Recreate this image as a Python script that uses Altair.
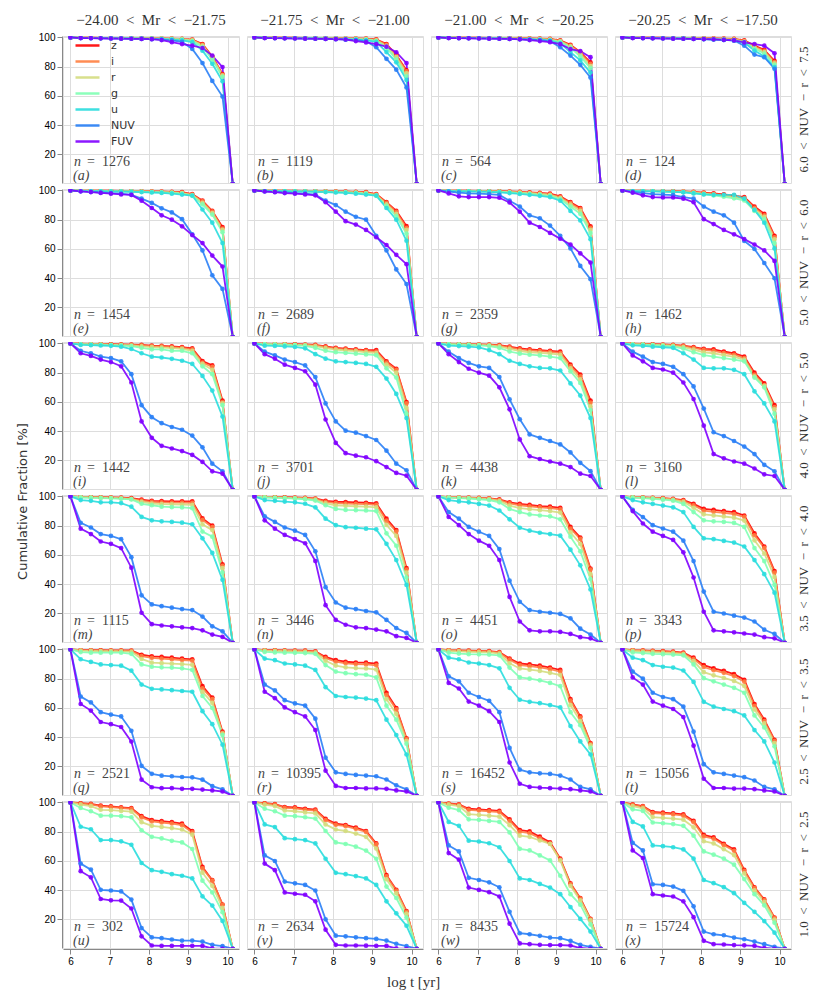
import altair as alt
import pandas as pd

# log-age grid (x positions of the markers)
T = [6.0, 6.26, 6.52, 6.77, 7.03, 7.29, 7.55, 7.81, 8.07, 8.32, 8.58, 8.84, 9.1, 9.36, 9.61, 9.87, 10.13]
BANDS = ["z", "i", "r", "g", "u", "NUV", "FUV"]
COLORS = ["#ff0000", "#ff8042", "#d4dd80", "#80ffb4", "#2addde", "#2a80f6", "#8000ff"]
SP = "\u2002"
COL_LABELS = ["\u221224.00" + SP + "<" + SP + "Mr" + SP + "<" + SP + "\u221221.75",
              "\u221221.75" + SP + "<" + SP + "Mr" + SP + "<" + SP + "\u221221.00",
              "\u221221.00" + SP + "<" + SP + "Mr" + SP + "<" + SP + "\u221220.25",
              "\u221220.25" + SP + "<" + SP + "Mr" + SP + "<" + SP + "\u221217.50"]
ROW_LABELS = ["6.0" + SP + "<" + SP + "NUV" + SP + "\u2212" + SP + "r" + SP + "<" + SP + "7.5",
              "5.0" + SP + "<" + SP + "NUV" + SP + "\u2212" + SP + "r" + SP + "<" + SP + "6.0",
              "4.0" + SP + "<" + SP + "NUV" + SP + "\u2212" + SP + "r" + SP + "<" + SP + "5.0",
              "3.5" + SP + "<" + SP + "NUV" + SP + "\u2212" + SP + "r" + SP + "<" + SP + "4.0",
              "2.5" + SP + "<" + SP + "NUV" + SP + "\u2212" + SP + "r" + SP + "<" + SP + "3.5",
              "1.0" + SP + "<" + SP + "NUV" + SP + "\u2212" + SP + "r" + SP + "<" + SP + "2.5"]
N_COUNTS = [1276, 1119, 564, 124, 1454, 2689, 2359, 1462, 1442, 3701, 4438, 3160,
            1115, 3446, 4451, 3343, 2521, 10395, 16452, 15056, 302, 2634, 8435, 15724]
LETTERS = list("abcdefghijklmnopqrstuvwx")

PANEL_A = {
    "z": [100, 99.8, 99.8, 99.7, 99.7, 99.6, 99.6, 99.5, 99.4, 99.3, 99.2, 99.0, 98.5, 95.5, 87.0, 75.0, 0],
    "i": [100, 99.8, 99.8, 99.7, 99.7, 99.6, 99.6, 99.5, 99.4, 99.3, 99.1, 98.9, 98.3, 95.0, 86.5, 74.5, 0],
    "r": [100, 99.8, 99.7, 99.7, 99.6, 99.6, 99.5, 99.4, 99.3, 99.2, 99.0, 98.8, 98.0, 94.5, 86.0, 74.0, 0],
    "g": [100, 99.8, 99.7, 99.6, 99.6, 99.5, 99.4, 99.3, 99.2, 99.0, 98.8, 98.5, 97.5, 93.5, 85.0, 73.0, 0],
    "u": [100, 99.7, 99.6, 99.5, 99.5, 99.4, 99.3, 99.2, 99.0, 98.8, 98.5, 98.0, 96.8, 91.0, 82.0, 70.0, 0],
    "NUV": [100, 99.6, 99.5, 99.4, 99.3, 99.2, 99.1, 99.0, 98.8, 98.5, 98.0, 97.0, 92.1, 82.5, 70.3, 59.6, 0],
    "FUV": [100, 99.6, 99.5, 99.4, 99.3, 99.2, 99.1, 99.0, 98.8, 98.2, 96.8, 95.5, 94.4, 92.8, 87.6, 79.8, 0],
}
PANEL_B = {
    "z": [100, 99.9, 99.9, 99.8, 99.8, 99.7, 99.7, 99.6, 99.5, 99.4, 99.3, 99.2, 98.7, 95.5, 88.0, 77.5, 0],
    "i": [100, 99.9, 99.8, 99.8, 99.7, 99.7, 99.6, 99.5, 99.4, 99.3, 99.2, 99.0, 98.4, 95.0, 87.3, 76.8, 0],
    "r": [100, 99.9, 99.8, 99.7, 99.7, 99.6, 99.5, 99.4, 99.3, 99.2, 99.0, 98.8, 98.0, 94.2, 86.5, 75.5, 0],
    "g": [100, 99.8, 99.7, 99.7, 99.6, 99.5, 99.4, 99.3, 99.2, 99.0, 98.8, 98.5, 97.6, 93.0, 85.0, 73.5, 0],
    "u": [100, 99.8, 99.7, 99.6, 99.5, 99.4, 99.3, 99.2, 99.0, 98.8, 98.5, 98.0, 97.0, 90.0, 83.0, 71.0, 0],
    "NUV": [100, 99.7, 99.6, 99.5, 99.4, 99.3, 99.2, 99.0, 98.8, 98.5, 98.2, 97.5, 93.3, 85.4, 78.0, 65.8, 0],
    "FUV": [100, 99.6, 99.5, 99.4, 99.3, 99.2, 99.1, 99.0, 98.8, 98.6, 97.5, 96.6, 95.5, 93.7, 89.9, 82.5, 0],
}
PANEL_C = {
    "z": [100, 99.9, 99.9, 99.8, 99.8, 99.7, 99.7, 99.6, 99.5, 99.4, 99.2, 99.0, 98.0, 95.0, 90.0, 83.0, 0],
    "i": [100, 99.9, 99.8, 99.8, 99.7, 99.7, 99.6, 99.5, 99.4, 99.3, 99.1, 98.8, 97.7, 94.5, 89.5, 82.0, 0],
    "r": [100, 99.9, 99.8, 99.7, 99.7, 99.6, 99.5, 99.4, 99.3, 99.1, 98.9, 98.5, 97.4, 94.0, 88.5, 80.5, 0],
    "g": [100, 99.8, 99.7, 99.7, 99.6, 99.5, 99.4, 99.3, 99.1, 98.9, 98.6, 98.2, 97.0, 93.0, 87.0, 79.0, 0],
    "u": [100, 99.8, 99.7, 99.6, 99.5, 99.4, 99.3, 99.1, 98.9, 98.6, 98.3, 97.8, 96.0, 90.0, 84.3, 76.0, 0],
    "NUV": [100, 99.7, 99.6, 99.5, 99.4, 99.3, 99.2, 99.0, 98.8, 98.6, 98.2, 97.5, 93.3, 87.6, 81.3, 72.6, 0],
    "FUV": [100, 99.6, 99.5, 99.4, 99.3, 99.2, 99.1, 99.0, 98.7, 98.2, 97.5, 96.8, 95.5, 92.0, 90.6, 86.5, 0],
}
PANEL_D = {
    "z": [100, 99.9, 99.9, 99.8, 99.8, 99.7, 99.7, 99.6, 99.5, 99.4, 99.2, 99.0, 98.0, 94.4, 91.5, 84.0, 0],
    "i": [100, 99.9, 99.8, 99.8, 99.7, 99.7, 99.6, 99.5, 99.4, 99.3, 99.1, 98.8, 97.6, 93.8, 90.8, 83.2, 0],
    "r": [100, 99.9, 99.8, 99.7, 99.7, 99.6, 99.5, 99.4, 99.3, 99.1, 98.9, 98.5, 97.2, 93.2, 90.0, 82.3, 0],
    "g": [100, 99.8, 99.7, 99.7, 99.6, 99.5, 99.4, 99.3, 99.1, 98.9, 98.6, 98.2, 96.8, 92.3, 89.0, 81.3, 0],
    "u": [100, 99.8, 99.7, 99.6, 99.5, 99.4, 99.3, 99.1, 98.9, 98.6, 98.3, 97.8, 96.5, 91.0, 87.0, 79.8, 0],
    "NUV": [100, 99.7, 99.6, 99.5, 99.4, 99.3, 99.2, 99.0, 98.8, 98.6, 98.3, 98.0, 94.4, 88.3, 86.5, 78.6, 0],
    "FUV": [100, 99.6, 99.5, 99.4, 99.3, 99.2, 99.1, 99.0, 98.9, 98.7, 98.4, 98.0, 96.6, 95.5, 94.4, 89.2, 0],
}
PANEL_E = {
    "z": [100, 99.9, 99.9, 99.8, 99.8, 99.7, 99.6, 99.5, 99.4, 99.3, 99.1, 98.8, 97.5, 93.0, 86.0, 75.0, 0],
    "i": [100, 99.9, 99.8, 99.8, 99.7, 99.6, 99.5, 99.4, 99.3, 99.1, 98.9, 98.5, 97.2, 92.5, 85.5, 74.0, 0],
    "r": [100, 99.9, 99.8, 99.7, 99.6, 99.5, 99.4, 99.3, 99.1, 98.9, 98.6, 98.2, 96.8, 91.5, 84.5, 73.0, 0],
    "g": [100, 99.8, 99.7, 99.6, 99.5, 99.4, 99.3, 99.1, 98.9, 98.7, 98.3, 97.8, 96.3, 90.5, 83.5, 71.5, 0],
    "u": [100, 99.7, 99.6, 99.5, 99.4, 99.3, 99.1, 98.9, 98.6, 98.3, 97.8, 97.2, 96.5, 87.0, 78.0, 64.0, 0],
    "NUV": [100, 99.4, 99.0, 98.6, 98.2, 97.8, 97.0, 94.4, 91.5, 87.8, 85.0, 80.4, 70.0, 59.0, 42.0, 32.7, 0],
    "FUV": [100, 99.4, 98.9, 98.3, 97.8, 97.3, 97.0, 93.0, 88.0, 83.0, 80.0, 75.5, 69.5, 64.0, 55.5, 48.0, 0],
}
PANEL_F = {
    "z": [100, 99.9, 99.9, 99.8, 99.8, 99.7, 99.6, 99.5, 99.4, 99.3, 99.1, 98.8, 97.5, 92.0, 86.0, 75.6, 0],
    "i": [100, 99.9, 99.8, 99.8, 99.7, 99.6, 99.5, 99.4, 99.3, 99.1, 98.9, 98.5, 97.2, 91.5, 85.3, 74.5, 0],
    "r": [100, 99.9, 99.8, 99.7, 99.6, 99.5, 99.4, 99.3, 99.1, 98.9, 98.6, 98.2, 96.8, 90.5, 84.0, 73.0, 0],
    "g": [100, 99.8, 99.7, 99.6, 99.5, 99.4, 99.3, 99.1, 98.9, 98.7, 98.3, 97.8, 96.3, 89.5, 82.5, 70.5, 0],
    "u": [100, 99.7, 99.6, 99.5, 99.4, 99.3, 99.1, 98.9, 98.6, 98.3, 97.8, 97.2, 96.5, 88.0, 80.0, 65.6, 0],
    "NUV": [100, 99.4, 99.0, 98.6, 98.2, 97.8, 97.2, 93.0, 90.0, 85.5, 82.0, 80.0, 69.0, 59.0, 46.0, 36.0, 0],
    "FUV": [100, 99.3, 98.8, 98.2, 97.8, 97.3, 96.7, 92.0, 85.5, 79.0, 76.7, 73.0, 68.0, 62.7, 56.0, 49.6, 0],
}
PANEL_G = {
    "z": [100, 99.9, 99.8, 99.8, 99.7, 99.6, 99.5, 99.3, 99.0, 98.7, 98.3, 97.8, 96.0, 92.0, 88.0, 75.5, 0],
    "i": [100, 99.8, 99.8, 99.7, 99.6, 99.5, 99.3, 99.1, 98.8, 98.4, 98.0, 97.4, 95.5, 91.3, 87.2, 74.5, 0],
    "r": [100, 99.8, 99.7, 99.6, 99.5, 99.4, 99.2, 98.9, 98.5, 98.1, 97.6, 96.9, 94.8, 90.3, 86.0, 73.0, 0],
    "g": [100, 99.7, 99.6, 99.5, 99.4, 99.2, 99.0, 98.6, 98.1, 97.6, 97.0, 96.2, 94.0, 89.0, 84.0, 71.0, 0],
    "u": [100, 99.6, 99.5, 99.3, 99.2, 99.0, 98.7, 98.2, 97.6, 97.0, 96.3, 95.5, 93.0, 86.0, 79.5, 66.7, 0],
    "NUV": [100, 99.2, 98.5, 98.0, 97.8, 97.5, 97.0, 93.0, 89.0, 83.0, 81.0, 76.0, 69.0, 60.4, 48.4, 39.3, 0],
    "FUV": [100, 98.0, 96.0, 95.5, 95.5, 95.5, 95.0, 91.8, 85.5, 78.0, 75.0, 71.0, 67.0, 63.0, 57.0, 50.7, 0],
}
PANEL_H = {
    "z": [100, 99.9, 99.8, 99.7, 99.6, 99.5, 99.3, 99.0, 98.5, 98.0, 97.3, 96.5, 95.5, 89.0, 84.0, 69.0, 0],
    "i": [100, 99.8, 99.7, 99.6, 99.5, 99.4, 99.2, 98.8, 98.2, 97.6, 96.8, 96.0, 94.8, 88.2, 83.0, 68.0, 0],
    "r": [100, 99.8, 99.7, 99.6, 99.4, 99.2, 99.0, 98.5, 97.8, 97.1, 96.3, 95.3, 94.0, 87.0, 82.0, 66.5, 0],
    "g": [100, 99.7, 99.6, 99.5, 99.3, 99.1, 98.8, 98.2, 97.4, 96.6, 95.7, 94.6, 93.2, 86.0, 80.5, 64.0, 0],
    "u": [100, 99.6, 99.5, 99.4, 99.2, 99.0, 98.7, 98.0, 97.3, 97.0, 97.0, 97.0, 94.4, 86.7, 78.0, 60.4, 0],
    "NUV": [100, 99.0, 98.2, 97.5, 97.2, 96.8, 95.5, 94.4, 89.0, 85.5, 83.0, 78.0, 65.5, 60.0, 50.4, 40.0, 0],
    "FUV": [100, 98.5, 96.7, 95.5, 95.2, 95.2, 94.4, 92.0, 80.4, 77.0, 73.0, 70.0, 66.7, 63.0, 59.0, 51.8, 0],
}
PANEL_I = {
    "z": [100, 99.8, 99.7, 99.6, 99.5, 99.4, 99.2, 99.0, 98.5, 98.3, 98.0, 97.5, 96.7, 88.0, 85.0, 61.0, 0],
    "i": [100, 99.7, 99.6, 99.5, 99.3, 99.2, 99.0, 98.7, 98.2, 98.0, 97.5, 97.0, 96.0, 87.0, 84.0, 60.0, 0],
    "r": [100, 99.6, 99.5, 99.3, 99.1, 98.9, 98.6, 98.0, 97.5, 97.2, 96.8, 96.3, 95.0, 86.0, 82.0, 59.0, 0],
    "g": [100, 99.5, 99.3, 99.1, 98.9, 98.6, 98.2, 97.0, 96.0, 96.0, 95.0, 95.0, 93.3, 84.4, 79.0, 57.8, 0],
    "u": [100, 99.0, 98.8, 98.6, 98.4, 97.8, 96.2, 93.3, 91.0, 90.4, 89.5, 88.2, 86.0, 77.8, 67.8, 50.0, 0],
    "NUV": [100, 95.0, 93.3, 91.0, 90.0, 87.8, 79.0, 57.8, 49.6, 45.5, 42.9, 41.0, 37.0, 29.0, 17.8, 12.6, 0],
    "FUV": [100, 93.3, 91.5, 89.0, 87.3, 84.4, 73.3, 46.7, 35.5, 30.0, 28.2, 26.4, 23.8, 19.0, 12.6, 11.0, 0],
}
PANEL_J = {
    "z": [100, 99.8, 99.7, 99.6, 99.5, 99.3, 99.0, 98.0, 97.0, 96.5, 96.0, 95.5, 95.5, 87.8, 82.7, 60.0, 0],
    "i": [100, 99.7, 99.6, 99.5, 99.3, 99.1, 98.7, 97.6, 96.5, 96.0, 95.5, 95.0, 94.5, 87.0, 82.0, 59.0, 0],
    "r": [100, 99.6, 99.5, 99.3, 99.1, 98.8, 98.2, 96.8, 95.8, 95.2, 94.7, 94.0, 93.5, 85.5, 80.0, 56.0, 0],
    "g": [100, 99.5, 99.3, 99.1, 98.8, 98.4, 97.0, 95.0, 94.0, 93.5, 93.0, 92.5, 92.0, 83.0, 76.7, 52.0, 0],
    "u": [100, 98.5, 98.3, 98.0, 97.6, 96.7, 92.7, 89.6, 87.8, 87.3, 86.7, 86.0, 84.0, 76.0, 65.5, 49.0, 0],
    "NUV": [100, 94.4, 91.8, 89.0, 87.3, 85.0, 77.0, 59.0, 46.7, 40.4, 39.0, 36.7, 34.0, 26.7, 17.8, 13.3, 0],
    "FUV": [100, 92.7, 89.6, 85.5, 83.3, 81.0, 71.8, 48.0, 32.0, 25.0, 23.3, 22.2, 19.5, 15.5, 11.5, 9.6, 0],
}
PANEL_K = {
    "z": [100, 99.8, 99.7, 99.6, 99.4, 99.2, 98.8, 97.8, 96.7, 96.0, 95.5, 95.0, 94.4, 85.5, 78.8, 61.0, 0],
    "i": [100, 99.7, 99.6, 99.4, 99.2, 99.0, 98.5, 97.3, 96.0, 95.3, 94.8, 94.2, 93.5, 84.5, 77.5, 59.5, 0],
    "r": [100, 99.6, 99.4, 99.2, 99.0, 98.7, 98.0, 96.3, 94.8, 94.0, 93.5, 93.0, 92.3, 83.0, 75.5, 57.0, 0],
    "g": [100, 99.5, 99.3, 99.0, 98.7, 98.2, 97.0, 94.5, 93.0, 92.3, 91.8, 91.0, 90.0, 81.0, 73.0, 54.5, 0],
    "u": [100, 98.5, 98.2, 97.8, 97.3, 95.5, 92.7, 88.2, 86.0, 84.4, 83.3, 83.0, 81.5, 72.7, 64.4, 49.0, 0],
    "NUV": [100, 94.4, 90.0, 86.7, 84.4, 83.3, 77.0, 61.8, 48.2, 37.8, 35.5, 33.3, 31.0, 25.5, 18.4, 12.7, 0],
    "FUV": [100, 92.7, 87.3, 82.7, 80.0, 78.0, 70.0, 55.0, 34.4, 22.9, 21.0, 19.3, 17.8, 15.5, 11.0, 9.4, 0],
}
PANEL_L = {
    "z": [100, 99.8, 99.7, 99.5, 99.3, 99.0, 98.5, 97.5, 96.3, 96.0, 94.5, 93.3, 91.0, 80.0, 72.7, 57.8, 0],
    "i": [100, 99.7, 99.5, 99.3, 99.1, 98.8, 98.2, 97.0, 95.6, 95.0, 93.5, 92.3, 90.0, 78.8, 71.5, 56.5, 0],
    "r": [100, 99.6, 99.4, 99.1, 98.8, 98.4, 97.5, 95.8, 94.0, 93.2, 92.0, 90.8, 89.0, 77.5, 71.0, 55.0, 0],
    "g": [100, 99.4, 99.2, 98.8, 98.4, 97.8, 96.5, 94.0, 92.0, 91.0, 90.0, 89.0, 87.8, 76.7, 70.0, 52.0, 0],
    "u": [100, 98.7, 98.3, 97.8, 97.4, 97.0, 93.3, 89.0, 83.3, 83.0, 83.0, 82.0, 79.0, 67.3, 59.0, 46.7, 0],
    "NUV": [100, 94.4, 91.0, 87.3, 86.0, 84.0, 79.0, 70.6, 55.5, 39.3, 36.7, 33.3, 29.5, 24.4, 17.0, 12.6, 0],
    "FUV": [100, 91.8, 87.8, 83.3, 82.2, 80.0, 73.3, 62.0, 43.8, 24.4, 21.5, 19.3, 17.8, 14.5, 10.5, 9.4, 0],
}
PANEL_M = {
    "z": [100, 99.7, 99.6, 99.5, 99.4, 99.2, 98.8, 97.8, 97.0, 96.8, 96.7, 96.7, 96.7, 85.0, 80.0, 53.6, 0],
    "i": [100, 99.6, 99.5, 99.4, 99.2, 99.0, 98.5, 97.2, 96.3, 96.0, 95.8, 95.8, 95.7, 84.0, 79.0, 52.5, 0],
    "r": [100, 99.5, 99.4, 99.2, 99.0, 98.7, 98.2, 96.3, 95.2, 94.8, 94.6, 94.5, 94.3, 81.0, 77.0, 51.0, 0],
    "g": [100, 99.3, 99.1, 98.9, 98.7, 98.4, 98.0, 95.0, 94.0, 93.0, 92.7, 92.5, 92.0, 76.0, 72.5, 48.0, 0],
    "u": [100, 97.5, 97.0, 96.0, 96.0, 95.5, 93.0, 86.0, 83.7, 83.0, 82.6, 82.1, 81.0, 71.4, 61.4, 43.0, 0],
    "NUV": [100, 82.0, 78.8, 74.3, 73.0, 70.8, 58.5, 32.4, 26.2, 25.0, 24.0, 23.0, 22.3, 17.9, 11.2, 7.8, 0],
    "FUV": [100, 78.0, 74.3, 69.2, 67.6, 64.7, 51.3, 20.5, 12.7, 11.8, 11.2, 10.5, 10.0, 8.5, 5.6, 4.0, 0],
}
PANEL_N = {
    "z": [100, 99.7, 99.6, 99.5, 99.3, 99.1, 98.6, 97.0, 96.4, 96.2, 96.0, 95.7, 95.3, 84.8, 77.0, 51.0, 0],
    "i": [100, 99.6, 99.5, 99.3, 99.1, 98.9, 98.3, 96.3, 95.5, 95.2, 95.0, 94.7, 94.3, 83.5, 76.0, 50.0, 0],
    "r": [100, 99.5, 99.3, 99.1, 98.8, 98.5, 97.8, 95.3, 94.0, 93.6, 93.3, 93.0, 92.5, 80.5, 73.0, 48.0, 0],
    "g": [100, 99.3, 99.1, 98.8, 98.5, 98.1, 97.2, 94.0, 91.5, 90.8, 90.6, 90.4, 90.0, 74.8, 66.3, 44.6, 0],
    "u": [100, 97.5, 97.0, 96.5, 96.0, 95.0, 92.6, 84.8, 80.4, 79.0, 78.6, 78.0, 77.5, 67.6, 56.5, 39.5, 0],
    "NUV": [100, 86.4, 82.6, 78.8, 76.6, 73.7, 62.5, 38.0, 27.5, 24.0, 23.0, 21.7, 20.8, 15.6, 10.0, 6.7, 0],
    "FUV": [100, 83.7, 78.0, 73.7, 70.8, 68.0, 55.8, 25.7, 15.6, 12.3, 10.5, 10.0, 9.0, 7.8, 4.5, 3.3, 0],
}
PANEL_O = {
    "z": [100, 99.6, 99.4, 99.2, 99.0, 98.7, 98.0, 96.0, 94.9, 94.2, 93.3, 93.0, 92.2, 79.2, 71.9, 50.7, 0],
    "i": [100, 99.5, 99.3, 99.1, 98.8, 98.5, 97.6, 95.3, 94.0, 93.3, 92.5, 92.0, 91.2, 78.0, 71.0, 50.0, 0],
    "r": [100, 99.4, 99.2, 98.9, 98.6, 98.2, 97.0, 93.8, 92.0, 91.3, 90.6, 90.0, 89.0, 75.5, 67.5, 47.0, 0],
    "g": [100, 99.2, 98.9, 98.5, 98.1, 97.5, 96.0, 91.5, 89.3, 87.7, 87.0, 86.4, 84.4, 72.5, 62.5, 43.5, 0],
    "u": [100, 97.5, 96.6, 96.0, 94.9, 93.8, 90.4, 84.4, 78.6, 76.6, 75.2, 74.3, 73.2, 63.6, 52.9, 36.4, 0],
    "NUV": [100, 89.3, 84.8, 79.2, 75.9, 73.0, 64.0, 42.4, 28.0, 22.3, 21.2, 20.5, 19.7, 16.7, 9.6, 5.6, 0],
    "FUV": [100, 86.0, 80.4, 74.3, 69.8, 66.3, 56.5, 31.3, 14.5, 8.5, 7.8, 7.8, 7.4, 6.0, 3.8, 3.0, 0],
}
PANEL_P = {
    "z": [100, 99.6, 99.4, 99.1, 98.8, 98.4, 97.5, 94.9, 91.5, 90.8, 90.0, 89.3, 87.0, 74.8, 65.8, 49.0, 0],
    "i": [100, 99.5, 99.3, 99.0, 98.6, 98.1, 97.0, 94.0, 90.3, 89.5, 88.8, 88.0, 86.0, 73.5, 64.8, 48.0, 0],
    "r": [100, 99.4, 99.1, 98.7, 98.3, 97.7, 96.3, 92.3, 87.8, 87.0, 86.3, 85.5, 83.5, 70.0, 61.0, 45.0, 0],
    "g": [100, 99.2, 98.8, 98.3, 97.8, 97.1, 94.9, 89.3, 83.7, 83.0, 82.6, 81.9, 79.2, 64.7, 55.8, 39.5, 0],
    "u": [100, 97.5, 96.0, 94.9, 93.8, 92.6, 89.3, 79.2, 71.4, 70.8, 69.6, 68.5, 65.8, 56.5, 46.9, 34.2, 0],
    "NUV": [100, 90.8, 85.9, 80.4, 78.1, 75.9, 69.8, 55.8, 35.0, 21.2, 20.0, 18.5, 17.2, 14.5, 8.9, 6.0, 0],
    "FUV": [100, 90.0, 81.5, 75.9, 73.0, 70.3, 61.8, 44.6, 21.2, 8.5, 7.8, 7.1, 6.3, 5.6, 3.8, 3.0, 0],
}
PANEL_Q = {
    "z": [100, 99.6, 99.5, 99.5, 99.4, 99.4, 99.3, 96.4, 95.3, 94.9, 94.4, 93.8, 93.3, 74.9, 67.1, 43.8, 0],
    "i": [100, 99.5, 99.4, 99.3, 99.2, 99.2, 99.0, 95.5, 94.3, 93.8, 93.3, 92.8, 92.3, 73.5, 66.0, 43.0, 0],
    "r": [100, 99.2, 99.0, 98.9, 98.8, 98.7, 98.4, 93.5, 91.0, 90.6, 90.3, 90.0, 89.5, 71.0, 63.5, 42.5, 0],
    "g": [100, 98.2, 97.8, 97.8, 97.8, 97.8, 97.0, 89.8, 88.2, 87.8, 87.6, 87.1, 86.0, 68.2, 60.0, 41.5, 0],
    "u": [100, 93.3, 91.5, 89.8, 89.3, 88.9, 85.5, 76.0, 73.1, 72.7, 72.2, 71.6, 71.1, 57.8, 48.9, 34.9, 0],
    "NUV": [100, 67.8, 63.8, 57.1, 55.5, 54.2, 44.4, 20.4, 15.0, 13.7, 13.3, 12.8, 12.6, 11.0, 6.6, 4.4, 0],
    "FUV": [100, 62.7, 58.2, 50.4, 48.9, 47.0, 37.0, 11.0, 5.8, 5.2, 5.2, 4.7, 4.7, 4.2, 3.6, 2.9, 0],
}
PANEL_R = {
    "z": [100, 99.6, 99.5, 99.4, 99.3, 99.2, 98.7, 94.9, 92.7, 91.6, 91.1, 91.0, 90.4, 70.4, 60.0, 39.3, 0],
    "i": [100, 99.5, 99.4, 99.2, 99.1, 99.0, 98.4, 94.0, 91.6, 90.5, 90.0, 89.8, 89.2, 69.0, 59.0, 38.8, 0],
    "r": [100, 99.2, 99.0, 98.8, 98.6, 98.4, 97.8, 92.3, 89.0, 87.8, 87.3, 87.0, 86.3, 66.0, 56.0, 37.5, 0],
    "g": [100, 98.3, 98.0, 97.8, 97.7, 97.5, 97.0, 89.3, 84.9, 83.8, 83.1, 82.7, 80.9, 61.6, 52.0, 35.6, 0],
    "u": [100, 93.8, 92.7, 90.4, 89.8, 88.9, 86.0, 74.2, 68.2, 67.5, 67.1, 66.4, 65.3, 52.0, 41.5, 28.2, 0],
    "NUV": [100, 76.0, 72.0, 65.3, 63.1, 61.6, 52.7, 26.0, 16.0, 14.9, 14.2, 13.8, 13.3, 11.1, 7.1, 4.4, 0],
    "FUV": [100, 71.1, 66.7, 60.4, 57.1, 54.2, 44.9, 17.1, 6.7, 5.3, 5.3, 5.0, 5.0, 4.7, 3.6, 2.9, 0],
}
PANEL_S = {
    "z": [100, 99.6, 99.4, 99.2, 99.0, 98.8, 98.2, 93.8, 90.4, 89.8, 88.9, 87.6, 86.0, 66.0, 54.2, 36.0, 0],
    "i": [100, 99.5, 99.2, 99.0, 98.8, 98.6, 97.8, 93.0, 89.3, 88.6, 87.8, 86.5, 84.8, 65.0, 53.5, 35.5, 0],
    "r": [100, 99.0, 98.7, 98.4, 98.2, 98.0, 97.2, 90.5, 87.0, 86.2, 85.3, 84.0, 82.5, 62.0, 51.0, 34.5, 0],
    "g": [100, 97.8, 97.2, 96.8, 96.7, 96.5, 96.0, 87.6, 80.9, 80.0, 78.9, 77.1, 74.9, 57.1, 48.2, 32.7, 0],
    "u": [100, 94.4, 93.3, 91.1, 90.4, 89.3, 87.1, 73.8, 65.6, 64.2, 63.3, 62.0, 60.4, 47.6, 37.1, 28.2, 0],
    "NUV": [100, 81.6, 78.2, 70.4, 67.5, 64.9, 57.1, 32.7, 17.8, 16.0, 15.3, 14.9, 13.8, 11.1, 6.0, 4.4, 0],
    "FUV": [100, 77.1, 73.3, 64.4, 61.6, 57.8, 50.4, 22.7, 8.2, 6.0, 5.5, 5.2, 4.9, 4.5, 3.6, 2.9, 0],
}
PANEL_T = {
    "z": [100, 99.6, 99.4, 99.1, 98.8, 98.5, 97.8, 94.4, 89.3, 87.1, 85.3, 83.1, 79.3, 62.7, 52.0, 38.2, 0],
    "i": [100, 99.5, 99.2, 98.9, 98.6, 98.2, 97.4, 93.5, 88.0, 85.8, 84.0, 81.8, 78.0, 61.5, 51.0, 37.5, 0],
    "r": [100, 99.0, 98.6, 98.2, 97.9, 97.5, 96.8, 92.0, 84.5, 82.3, 80.5, 78.5, 75.0, 59.0, 49.5, 36.0, 0],
    "g": [100, 98.0, 97.5, 97.0, 96.8, 96.5, 96.0, 89.8, 80.4, 78.2, 76.0, 73.8, 70.4, 54.9, 46.7, 33.8, 0],
    "u": [100, 94.4, 92.7, 89.3, 88.2, 87.6, 85.6, 77.8, 64.2, 60.9, 59.3, 57.8, 54.9, 44.9, 37.1, 22.7, 0],
    "NUV": [100, 84.9, 80.0, 70.4, 67.5, 66.0, 60.9, 43.8, 21.6, 16.0, 14.9, 13.8, 12.7, 10.4, 6.0, 4.4, 0],
    "FUV": [100, 80.9, 76.0, 64.4, 61.6, 59.3, 53.8, 34.2, 11.6, 5.3, 5.3, 4.9, 4.9, 4.5, 3.6, 2.9, 0],
}
PANEL_U = {
    "z": [100, 99.5, 99.0, 97.8, 97.3, 96.6, 96.2, 90.6, 87.9, 87.2, 86.6, 85.5, 80.5, 55.9, 46.9, 30.2, 0],
    "i": [100, 99.3, 98.7, 97.3, 96.8, 96.2, 95.7, 89.8, 87.0, 86.3, 85.6, 84.5, 79.5, 55.0, 46.5, 30.0, 0],
    "r": [100, 98.5, 97.5, 95.0, 94.7, 94.2, 93.7, 86.5, 84.0, 83.3, 82.5, 81.5, 78.0, 52.0, 43.0, 28.0, 0],
    "g": [100, 96.2, 94.0, 91.0, 91.0, 90.6, 89.9, 81.0, 76.5, 75.4, 73.8, 72.7, 68.2, 46.5, 38.5, 25.0, 0],
    "u": [100, 83.4, 81.7, 74.3, 74.3, 73.4, 71.1, 58.6, 53.7, 52.6, 51.0, 49.9, 48.1, 35.8, 29.5, 19.0, 0],
    "NUV": [100, 58.2, 54.1, 40.3, 39.8, 39.2, 33.6, 14.1, 7.8, 7.2, 6.3, 5.6, 5.6, 4.9, 2.7, 1.8, 0],
    "FUV": [100, 53.0, 48.8, 34.0, 33.1, 32.9, 27.5, 8.5, 2.2, 2.0, 2.0, 2.0, 2.0, 1.9, 0.2, 0, 0],
}
PANEL_V = {
    "z": [100, 99.5, 98.9, 96.9, 96.7, 95.7, 95.1, 88.8, 85.5, 84.6, 82.8, 80.5, 72.0, 50.3, 40.3, 25.7, 0],
    "i": [100, 99.3, 98.6, 96.3, 96.0, 95.0, 94.4, 88.0, 84.7, 83.8, 82.0, 79.8, 71.3, 49.5, 39.8, 25.3, 0],
    "r": [100, 98.5, 97.5, 94.5, 94.0, 93.2, 92.5, 85.0, 81.5, 80.5, 78.7, 76.5, 68.5, 47.5, 38.0, 24.0, 0],
    "g": [100, 95.7, 94.0, 91.0, 90.6, 89.9, 89.0, 80.5, 72.7, 71.6, 69.8, 67.1, 61.5, 42.5, 34.7, 21.3, 0],
    "u": [100, 85.0, 83.2, 75.6, 74.9, 74.3, 72.0, 61.5, 51.9, 51.0, 49.7, 48.1, 43.6, 32.4, 24.2, 15.7, 0],
    "NUV": [100, 63.8, 60.0, 45.9, 44.7, 43.6, 39.8, 20.1, 8.9, 8.5, 7.8, 7.2, 6.7, 5.6, 3.4, 1.8, 0],
    "FUV": [100, 58.2, 53.7, 38.5, 37.6, 36.9, 32.4, 13.0, 2.7, 2.2, 2.2, 2.1, 2.0, 1.9, 0.2, 0, 0],
}
PANEL_W = {
    "z": [100, 99.3, 98.7, 95.7, 95.3, 94.8, 94.2, 88.5, 81.1, 80.2, 76.6, 72.8, 61.6, 44.7, 34.6, 20.4, 0],
    "i": [100, 99.0, 98.3, 95.0, 94.5, 94.0, 93.4, 87.5, 80.0, 79.0, 75.5, 71.8, 61.0, 44.2, 34.2, 20.1, 0],
    "r": [100, 98.5, 97.5, 92.0, 91.5, 91.0, 90.3, 84.5, 77.3, 76.5, 74.0, 71.7, 60.4, 43.0, 33.0, 19.5, 0],
    "g": [100, 96.4, 94.8, 88.5, 88.1, 87.4, 86.7, 79.5, 68.3, 67.2, 63.8, 60.4, 49.9, 37.3, 30.1, 16.6, 0],
    "u": [100, 86.7, 84.0, 73.9, 73.3, 72.1, 69.4, 60.0, 48.1, 47.0, 44.3, 41.8, 37.3, 28.5, 20.4, 11.7, 0],
    "NUV": [100, 70.6, 66.5, 48.5, 47.0, 45.4, 42.0, 25.2, 10.6, 9.9, 8.8, 7.6, 7.2, 5.4, 2.7, 1.3, 0],
    "FUV": [100, 65.4, 60.9, 41.8, 40.2, 38.7, 35.7, 17.1, 3.6, 3.1, 2.7, 2.5, 2.5, 2.2, 0.5, 0, 0],
}
PANEL_X = {
    "z": [100, 98.7, 97.5, 93.5, 93.0, 92.6, 91.9, 87.4, 77.8, 76.2, 71.7, 67.9, 53.9, 42.0, 33.7, 21.3, 0],
    "i": [100, 98.4, 97.1, 92.8, 92.3, 91.8, 91.0, 86.5, 76.8, 75.2, 70.8, 67.0, 53.2, 41.5, 33.3, 21.0, 0],
    "r": [100, 97.5, 96.0, 90.0, 89.5, 89.0, 88.2, 83.0, 73.5, 72.0, 68.0, 64.0, 51.5, 40.0, 32.0, 20.0, 0],
    "g": [100, 95.3, 94.2, 86.3, 85.8, 85.2, 84.0, 77.3, 66.5, 64.3, 61.6, 57.5, 47.6, 37.3, 29.7, 17.8, 0],
    "u": [100, 86.7, 83.6, 70.6, 70.1, 69.4, 67.9, 61.6, 47.0, 44.8, 42.1, 38.0, 31.3, 25.2, 18.9, 11.0, 0],
    "NUV": [100, 72.4, 67.2, 44.1, 43.6, 42.5, 39.6, 29.0, 11.7, 9.9, 9.2, 7.6, 6.5, 4.9, 3.1, 1.3, 0],
    "FUV": [100, 67.2, 62.0, 37.3, 36.4, 35.7, 32.4, 21.6, 5.4, 3.1, 2.9, 2.5, 2.3, 2.0, 0.5, 0, 0],
}

PANELS = [PANEL_A, PANEL_B, PANEL_C, PANEL_D, PANEL_E, PANEL_F, PANEL_G, PANEL_H,
          PANEL_I, PANEL_J, PANEL_K, PANEL_L, PANEL_M, PANEL_N, PANEL_O, PANEL_P,
          PANEL_Q, PANEL_R, PANEL_S, PANEL_T, PANEL_U, PANEL_V, PANEL_W, PANEL_X]

records = []
for k, panel in enumerate(PANELS):
    ri, ci = divmod(k, 4)
    for bi, band in enumerate(BANDS):
        for j, (t, v) in enumerate(zip(T, panel[band])):
            records.append({
                "row": ROW_LABELS[ri], "col": COL_LABELS[ci], "band": band,
                "t": t, "v": v,
                "nlab": "=\u2002" + str(N_COUNTS[k]),
                "letter": "(" + LETTERS[k] + ")",
                "first": bool(bi == 0 and j == 0),
            })
df = pd.DataFrame(records)

SERIF = "Liberation Serif, DejaVu Serif, serif"
SANS = "DejaVu Sans, sans-serif"

x_enc = alt.X("t:Q", scale=alt.Scale(domain=[5.81, 10.29], nice=False, zero=False),
              axis=alt.Axis(values=[6, 7, 8, 9, 10], title=None, format="d"))
y_enc = alt.Y("v:Q", scale=alt.Scale(domain=[0.5, 101], nice=False, zero=False),
              axis=alt.Axis(values=[20, 40, 60, 80, 100], title=None, format="d"))

lines = alt.Chart().mark_line(strokeWidth=1.8, clip=True, opacity=0.9).encode(
    x=x_enc, y=y_enc,
    color=alt.Color("band:N", sort=BANDS, scale=alt.Scale(domain=BANDS, range=COLORS),
                    legend=alt.Legend(title=None, orient="none", legendX=15, legendY=0,
                                      symbolType="M-1.5,0H1.5", symbolStrokeWidth=2.5,
                                      symbolSize=256, labelFont=SANS, labelFontSize=11,
                                      labelColor="#333333", rowPadding=1, labelOffset=14)),
)
points = alt.Chart().mark_circle(size=22, opacity=0.9, clip=True).encode(
    x=x_enc, y=y_enc,
    color=alt.Color("band:N", sort=BANDS, scale=alt.Scale(domain=BANDS, range=COLORS), legend=None),
)
txt_n = alt.Chart().mark_text(align="left", baseline="alphabetic", font=SERIF, fontSize=14,
                              fontStyle="italic", color="#444444").encode(
    x=alt.value(11), y=alt.value(130), text=alt.value("n")).transform_filter("datum.first")
txt_num = alt.Chart().mark_text(align="left", baseline="alphabetic", font=SERIF, fontSize=14,
                                color="#444444").encode(
    x=alt.value(24), y=alt.value(130), text="nlab:N").transform_filter("datum.first")
txt_let = alt.Chart().mark_text(align="left", baseline="alphabetic", font=SERIF, fontSize=14,
                                fontStyle="italic", color="#444444").encode(
    x=alt.value(10), y=alt.value(144), text="letter:N").transform_filter("datum.first")

panel = alt.layer(lines, points, txt_n, txt_num, txt_let, data=df).properties(width=176, height=147)

fac = panel.facet(
    row=alt.Row("row:N", sort=ROW_LABELS, title=None,
                header=alt.Header(labelOrient="right", labelAngle=270, labelFont=SERIF,
                                  labelFontSize=13, labelColor="#333333", labelPadding=6)),
    column=alt.Column("col:N", sort=COL_LABELS, title=None,
                      header=alt.Header(labelOrient="top", labelFont=SERIF, labelFontSize=15,
                                        labelColor="#333333", labelPadding=7)),
    spacing={"row": 4, "column": 6},
).properties(title=alt.TitleParams("log t [yr]", orient="bottom", anchor="middle", font=SERIF,
                                   fontSize=15, fontWeight="normal", color="#333333",
                                   offset=9, dx=-11))

chart = alt.vconcat(fac).properties(
    title=alt.TitleParams("Cumulative Fraction [%]", orient="left", font=SANS, fontSize=13,
                          fontWeight="normal", color="#333333", anchor="middle", offset=8),
    padding={"left": 9, "top": 5, "right": 5, "bottom": 5},
).configure_view(stroke="#cccccc", strokeWidth=1.5).configure_axis(
    grid=True, gridColor="#dddddd", gridWidth=1, domain=False, ticks=False,
    labelFont=SERIF, labelFontSize=11, labelColor="#444444", labelPadding=5
).configure(background="white")

chart.save("out.html", embed_options={"renderer": "svg", "actions": False})
